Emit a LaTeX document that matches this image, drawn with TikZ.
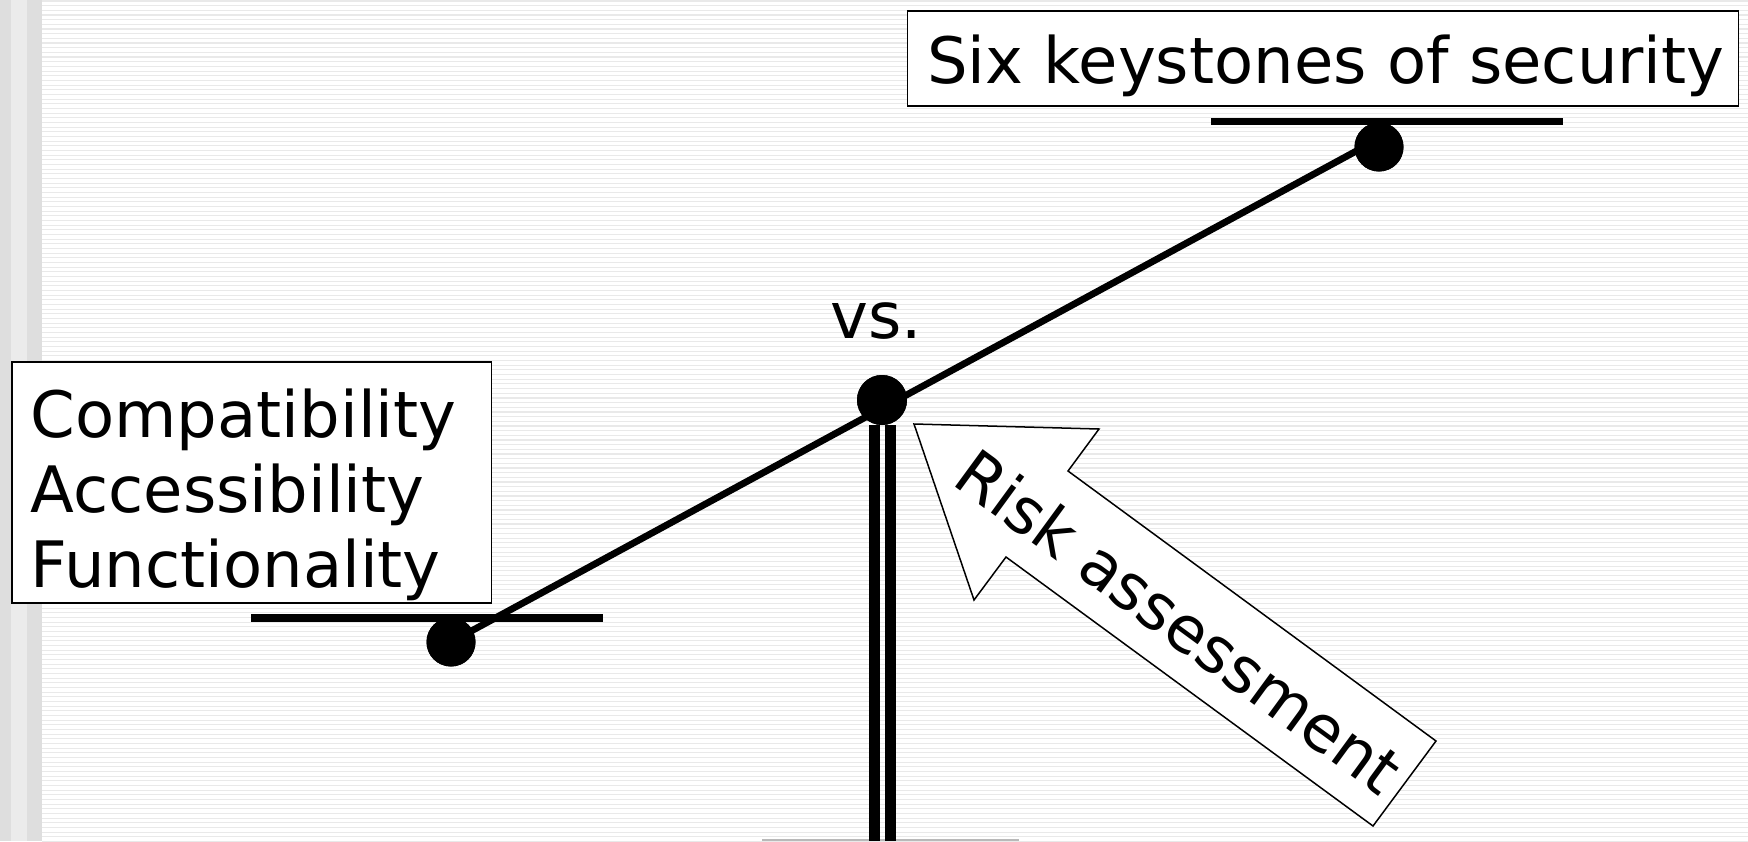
\documentclass[tikz,border=0pt]{standalone}
\usepackage{fontspec}
\setmainfont{DejaVu Sans}
\begin{document}
\begin{tikzpicture}[x=1pt,y=-1pt,
  lbl/.style={font=\fontsize{64}{75}\selectfont, inner sep=0pt, anchor=base west},
  boxx/.style={draw=black, fill=white, line width=1.6pt, anchor=north west, inner sep=0pt},
  dot/.style={circle, fill=black, inner sep=0pt, minimum size=49pt},
  hbar/.style={line width=7.6pt},
  beam/.style={line width=6.8pt},
  stripe/.style={draw=gray!17, line width=1.1pt}]
\useasboundingbox (0,0) rectangle (1748,841);
% background
\fill[white] (0,0) rectangle (1748,841);
\foreach \k in {0,...,180} {
  \draw[stripe] (42,{1+\k*4.67}) -- (1748,{1+\k*4.67});
}
\fill[black!13] (0,0) rectangle (11,841);
\fill[black!8] (11,0) rectangle (27.3,841);
\fill[black!13] (27.3,0) rectangle (42,841);
% base top edge
\coordinate (baseL) at (762,840);
\coordinate (baseR) at (1019,840);
\draw[gray!55, line width=1.5pt] (baseL) -- (baseR);
% stand
\fill[black] (869,425) rectangle (880,841);
\fill[black] (885,425) rectangle (896,841);
% pans
\coordinate (lpanL) at (251,618);
\coordinate (lpanR) at (603,618);
\coordinate (rpanL) at (1211,121.5);
\coordinate (rpanR) at (1563,121.5);
\draw[hbar] (lpanL) -- (lpanR);
\draw[hbar] (rpanL) -- (rpanR);
% beam and joints
\node[dot] (ldot) at (451,642) {};
\node[dot] (rdot) at (1379,147) {};
\node[dot, minimum size=50pt] (pivot) at (882,400) {};
\coordinate (beamR) at (1370,143.6);
\draw[beam] (ldot.center) -- (beamR);
\node[dot] at (ldot) {};
\node[dot] at (rdot) {};
\node[dot, minimum size=50pt] at (pivot) {};
% boxes
\node[boxx, minimum width=831pt, minimum height=95pt] (sixbox) at (906.7,10) {};
\node[lbl] (six) at (927,83.3) {Six keystones of security};
\node[boxx, minimum width=479.5pt, minimum height=241pt] (leftbox) at (11,361) {};
\node[lbl] (compat) at (30.5,437) {Compatibility};
\node[lbl] (access) at (30.5,512.5) {Accessibility};
\node[lbl] (funct) at (30.5,587.5) {Functionality};
\node[lbl] (vs) at (830,338) {vs.};
% risk arrow
\draw[fill=white, line width=1.5pt, line join=miter]
  (914,424) -- (1099,429) -- (1068,471) -- (1436,741) -- (1373,826)
  -- (1006,557) -- (974,600) -- cycle;
\node[lbl, anchor=base, rotate=-36.2] (risk) at (1165.4,640.6) {Risk assessment};
\end{tikzpicture}
\end{document}
